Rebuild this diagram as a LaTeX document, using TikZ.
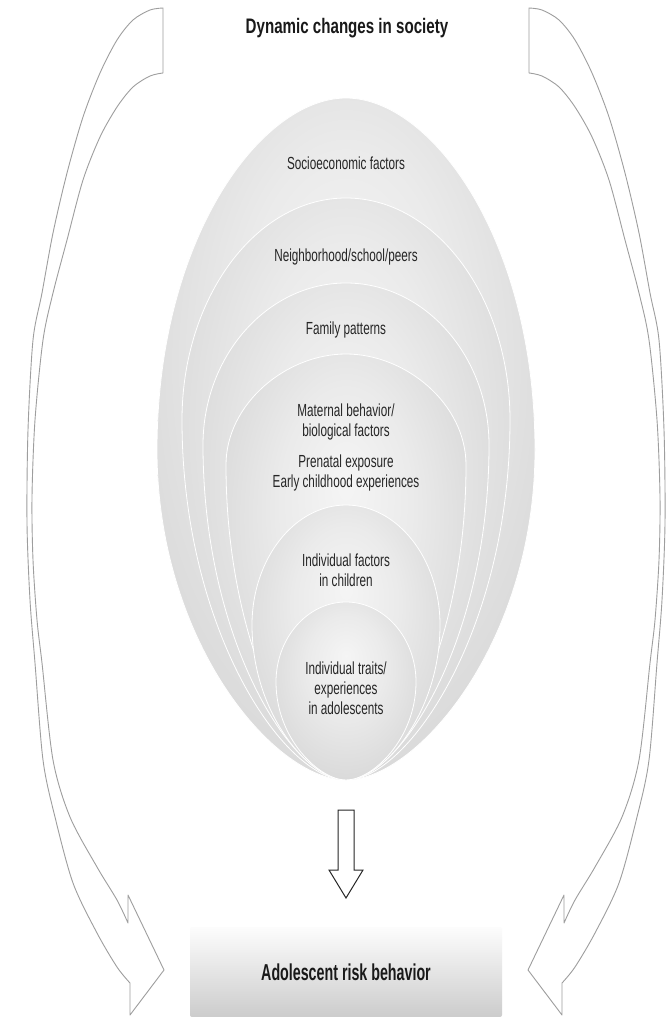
\documentclass[tikz,border=0pt]{standalone}
\usepackage{fontspec}
\setmainfont{Liberation Sans}
\newfontfamily\eggfont[FakeStretch=0.67]{Liberation Sans}
\newfontfamily\ttlfont[FakeStretch=0.72]{Liberation Sans}
\newfontfamily\boxfont[FakeStretch=0.62]{Liberation Sans}
\pgfdeclareradialshading{eggshade}{\pgfpoint{0bp}{10bp}}{color(0bp)=(black!4); color(14bp)=(black!8); color(30bp)=(black!15); color(44bp)=(black!22); color(50bp)=(black!25)}
% egg layer: #1 half width, #2 y of widest point, #3 top y, #4 top control factor, #5 side control factor
\newcommand\eggshape[5]{(346,780) .. controls ({346+0.38*#1},780) and ({346+#1},{#2+0.58*(780-#2)}) .. ({346+#1},#2) .. controls ({346+#1},{#2-#5*(#2-#3)}) and ({346+#4*#1},#3) .. (346,#3) .. controls ({346-#4*#1},#3) and ({346-#1},{#2-#5*(#2-#3)}) .. ({346-#1},#2) .. controls ({346-#1},{#2+0.58*(780-#2)}) and ({346-0.38*#1},780) .. cycle}
\newcommand\sidearrowpath{(163,8) -- (163,73) -- plot[smooth] coordinates {(163,73) (150,76) (133,87) (117,107) (100,137) (83,180) (67,240) (53,293) (43,340) (35,420) (32,497) (33,560) (37,620) (42,663) (53,760) (70,817) (97,867) (117,900) (128,923)} -- (128,895) -- (164,970) -- (130,1015) -- (130,983) -- plot[smooth] coordinates {(130,983) (117,967) (97,933) (73,883) (55,817) (43,760) (35,663) (30,600) (27,523) (28,430) (33,340) (42,293) (53,233) (67,173) (83,117) (100,73) (117,40) (133,20) (150,10) (163,8)} -- cycle}
\begin{document}
\begin{tikzpicture}[x=1pt,y=-1pt,
  egglayer/.style={shade, shading=eggshade, draw=white, line width=0.8pt},
  eggtext/.style={font=\eggfont\fontsize{17.5}{20}\selectfont, align=center, text=black!85, inner sep=0pt},
  titletext/.style={font=\ttlfont\bfseries\fontsize{21}{25}\selectfont, text=black!90, inner sep=0pt},
  riskbox/.style={minimum width=312pt, minimum height=90pt, top color=black!1, bottom color=black!20, rounded corners=2pt, font=\boxfont\bfseries\fontsize{23}{27}\selectfont, text=black!90, inner sep=0pt},
  sidearrow/.style={draw=black!38, line width=0.9pt, fill=white, line join=round},
  downarrow/.style={draw=black!85, line width=1pt, fill=white, line join=miter}]
\useasboundingbox (0,0) rectangle (669,1017);
\fill[white] (0,0) rectangle (669,1017);

% side arrows
\draw[sidearrow] \sidearrowpath;
\begin{scope}[shift={(692,0)}, xscale=-1]
  \draw[sidearrow] \sidearrowpath;
\end{scope}

% nested egg layers
\path[egglayer] \eggshape{189}{450}{98}{0.45}{0.6};
\path[egglayer] \eggshape{164}{420}{198}{0.55}{0.55};
\path[egglayer] \eggshape{143}{445}{283}{0.55}{0.55};
\path[egglayer] \eggshape{120}{465}{354}{0.5}{0.55};
\path[egglayer] \eggshape{94}{625}{505}{0.55}{0.55};
\path[egglayer] \eggshape{70}{682}{602}{0.55}{0.55};

% texts
\node[titletext, anchor=base] (title) at (347,33) {Dynamic changes in society};
\node[eggtext] (soc) at (346,163) {Socioeconomic factors};
\node[eggtext] (nbh) at (346,257) {Neighborhood/school/peers};
\node[eggtext] (fam) at (346,330) {Family patterns};
\node[eggtext] (mat) at (346,422) {Maternal behavior/\\biological factors};
\node[eggtext] (pre) at (346,473) {Prenatal exposure\\Early childhood experiences};
\node[eggtext] (ind) at (346,570) {Individual factors\\in children};
\node[eggtext] (trt) at (346,688) {Individual traits/\\experiences\\in adolescents};

% down block arrow
\draw[downarrow] (338,810) -- (354,810) -- (354,870) -- (363,870) -- (346,898) -- (329,870) -- (338,870) -- cycle;

% result box
\node[riskbox] (risk) at (346,972) {Adolescent risk behavior};
\end{tikzpicture}
\end{document}
